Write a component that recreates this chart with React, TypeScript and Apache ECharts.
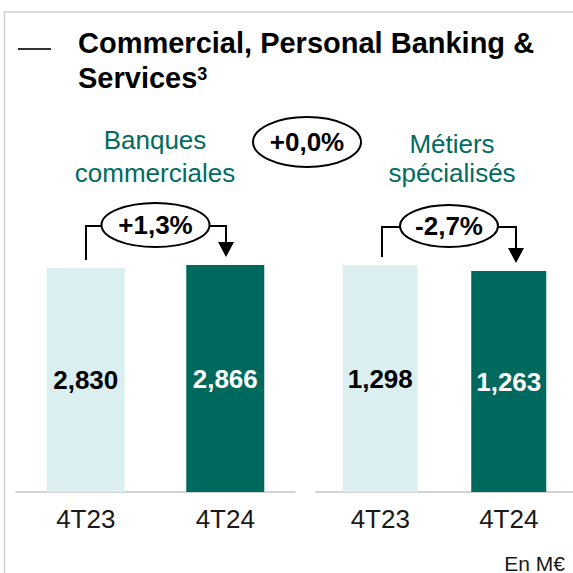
import React, { useEffect, useRef } from 'react';
import * as echarts from 'echarts';

const categories = ['4T23', '4T24'];
const banquesValues = [2830, 2866];
const metiersValues = [1298, 1263];
const banquesTitle = ['Banques', 'commerciales'];
const metiersTitle = ['Métiers', 'spécialisés'];
const changeLabels = ['+1,3%', '-2,7%'];
const totalChangeLabel = '+0,0%';
const titleLines = ['Commercial, Personal Banking &', 'Services'];
const titleSup = '3';
const unitLabel = 'En M€';

const FONT = '"Liberation Sans", Arial, sans-serif';
const LIGHT = '#dbeff1';
const DARK = '#00695e';
const GREEN_TEXT = '#006b5f';

function fmt(v: number) {
  return v.toLocaleString('en-US');
}

function makeData(vals: number[]) {
  return vals.map((v, i) => ({
    value: v,
    itemStyle: { color: i === 0 ? LIGHT : DARK },
    label: { color: i === 0 ? '#000' : '#fff' },
  }));
}

function measure(text: string, font: string) {
  const c = document.createElement('canvas').getContext('2d');
  if (!c) return text.length * 14;
  c.font = font;
  return c.measureText(text).width;
}

export default function App() {
  const ref = useRef<HTMLDivElement>(null);
  useEffect(() => {
    if (!ref.current) return;
    const chart = echarts.init(ref.current, null, { renderer: 'svg' });
    const titleSize = 29;
    const servicesW = measure(titleLines[1], `bold ${titleSize}px "Liberation Sans"`);
    const blackLine = { stroke: '#000', lineWidth: 2, fill: null as any };
    const bubble = (cx: number, cy: number, rx: number, ry: number, text: string) => [
      { type: 'ellipse', z: 100, shape: { cx, cy, rx, ry }, style: { fill: '#fff', stroke: '#000', lineWidth: 2 } },
      {
        type: 'text', z: 101, x: cx, y: cy,
        style: { text, fontSize: 26, fontWeight: 'bold', fontFamily: FONT, fill: '#000', align: 'center', verticalAlign: 'middle' },
      },
    ];
    const axisX = (grid: number) => ({
      type: 'category',
      gridIndex: grid,
      data: categories,
      axisLine: { lineStyle: { color: '#c3c3c3', width: 1.5 } },
      axisTick: { show: false },
      axisLabel: { fontSize: 26, color: '#1a1a1a', fontFamily: FONT, margin: 14 },
    });
    const axisY = (grid: number) => ({
      type: 'value', gridIndex: grid, min: 0, max: 'dataMax', show: false, splitLine: { show: false },
    });
    const label = { show: true, position: 'inside', fontSize: 26, fontWeight: 'bold', fontFamily: FONT, formatter: (p: any) => fmt(p.value) };
    chart.setOption({
      animation: false,
      backgroundColor: '#fff',
      grid: [
        { left: 16, width: 279, top: 265, bottom: 81 },
        { left: 316, width: 267, top: 265, bottom: 81 },
      ],
      xAxis: [axisX(0), axisX(1)],
      yAxis: [axisY(0), axisY(1)],
      series: [
        { type: 'bar', xAxisIndex: 0, yAxisIndex: 0, barWidth: 78, data: makeData(banquesValues), label },
        { type: 'bar', xAxisIndex: 1, yAxisIndex: 1, barWidth: 75, data: makeData(metiersValues), label },
      ],
      graphic: [
        { type: 'polyline', shape: { points: [[4.5, 573], [4.5, 12], [573, 12]] }, style: { stroke: '#cfcfcf', lineWidth: 1.5, fill: null } },
        { type: 'line', shape: { x1: 18, y1: 49, x2: 51, y2: 49 }, style: { stroke: '#333', lineWidth: 2 } },
        { type: 'text', x: 78, y: 43, style: { text: titleLines[0], fontSize: titleSize, fontWeight: 'bold', fontFamily: FONT, fill: '#000', verticalAlign: 'middle' } },
        { type: 'text', x: 78, y: 78, style: { text: titleLines[1], fontSize: titleSize, fontWeight: 'bold', fontFamily: FONT, fill: '#000', verticalAlign: 'middle' } },
        { type: 'text', x: 78 + servicesW, y: 74, style: { text: titleSup, fontSize: 18, fontWeight: 'bold', fontFamily: FONT, fill: '#000', verticalAlign: 'middle' } },
        { type: 'text', x: 155, y: 140, style: { text: banquesTitle[0], fontSize: 26, fontFamily: FONT, fill: GREEN_TEXT, align: 'center', verticalAlign: 'middle' } },
        { type: 'text', x: 155, y: 173, style: { text: banquesTitle[1], fontSize: 26, fontFamily: FONT, fill: GREEN_TEXT, align: 'center', verticalAlign: 'middle' } },
        { type: 'text', x: 452, y: 144, style: { text: metiersTitle[0], fontSize: 26, fontFamily: FONT, fill: GREEN_TEXT, align: 'center', verticalAlign: 'middle' } },
        { type: 'text', x: 452, y: 173, style: { text: metiersTitle[1], fontSize: 26, fontFamily: FONT, fill: GREEN_TEXT, align: 'center', verticalAlign: 'middle' } },
        ...bubble(307, 142, 54, 25, totalChangeLabel),
        { type: 'polyline', z: 99, shape: { points: [[86, 260], [86, 226], [110, 226]] }, style: blackLine },
        { type: 'polyline', z: 99, shape: { points: [[200, 226], [226, 226], [226, 245]] }, style: blackLine },
        { type: 'polygon', z: 99, shape: { points: [[218, 242], [234, 242], [226, 257]] }, style: { fill: '#000' } },
        ...bubble(155.5, 225, 54, 22, changeLabels[0]),
        { type: 'polyline', z: 99, shape: { points: [[382, 257], [382, 227], [410, 227]] }, style: blackLine },
        { type: 'polyline', z: 99, shape: { points: [[490, 227], [516, 227], [516, 250]] }, style: blackLine },
        { type: 'polygon', z: 99, shape: { points: [[508, 248], [524, 248], [516, 263]] }, style: { fill: '#000' } },
        ...bubble(449, 226, 49, 21, changeLabels[1]),
        { type: 'text', x: 565, y: 563, style: { text: unitLabel, fontSize: 21, fontFamily: FONT, fill: '#1a1a1a', align: 'right', verticalAlign: 'middle' } },
      ],
    });
    return () => chart.dispose();
  }, []);
  return <div ref={ref} style={{ position: 'absolute', left: 0, top: 0, width: 573, height: 573 }} />;
}
